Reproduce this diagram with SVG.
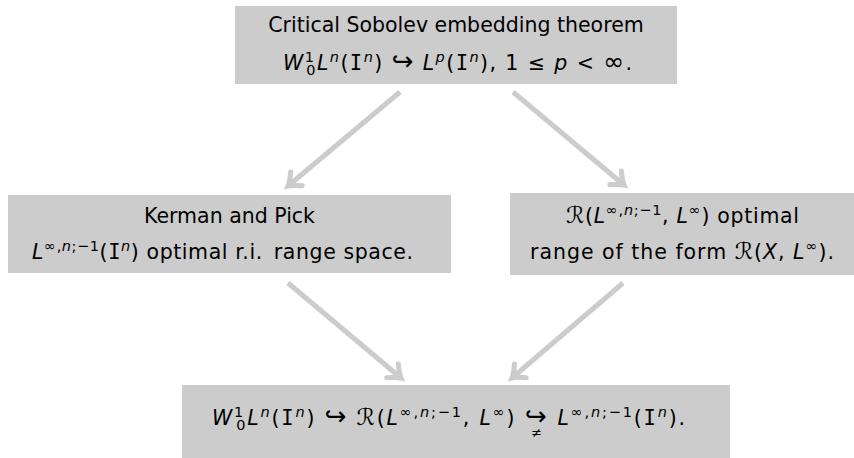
<svg xmlns="http://www.w3.org/2000/svg" width="854" height="458" viewBox="0 0 854 458">
<defs>
<style>
.box{fill:#cccccc;stroke:none}
text{font-family:"DejaVu Sans","Liberation Sans",sans-serif;font-size:20.5px;fill:#000}
.it{font-style:italic}
.tt{font-family:"DejaVu Sans Mono","Liberation Mono",monospace}
.sm{font-size:14.5px}
.ar{font-size:26px}
.inf{font-size:25px}
.cal{font-size:23px}
.ne{font-size:13px}
.conn{stroke:#cccccc;stroke-width:5;fill:none;marker-end:url(#arr)}
</style>
<marker id="arr" markerUnits="userSpaceOnUse" markerWidth="30" markerHeight="30" viewBox="-15 -15 30 30" refX="0" refY="0" orient="auto">
<path d="M -11 -9 Q -4 -2 0 0 Q -4 2 -11 9" fill="none" stroke="#cccccc" stroke-width="5" stroke-linecap="round"/>
</marker>
</defs>
<g id="connectors">
<line class="conn" x1="400" y1="92" x2="288" y2="186"/>
<line class="conn" x1="513" y1="92" x2="624" y2="185"/>
<line class="conn" x1="288" y1="283" x2="401" y2="378"/>
<line class="conn" x1="623" y1="283" x2="512" y2="378"/>
</g>
<g id="top">
<rect class="box" x="235" y="6" width="442" height="78"/>
<text x="456" y="32" text-anchor="middle">Critical Sobolev embedding theorem</text>
<text x="283" y="70" textLength="349" lengthAdjust="spacing"><tspan class="it">W</tspan><tspan class="sm" dy="-8">1</tspan><tspan class="sm" dx="-9" dy="13">0</tspan><tspan class="it" dy="-5">L</tspan><tspan class="it sm" dy="-8">n</tspan><tspan dy="8">(</tspan><tspan class="tt">I</tspan><tspan class="it sm" dy="-8">n</tspan><tspan dy="8">) </tspan><tspan class="ar">↪</tspan><tspan> </tspan><tspan class="it">L</tspan><tspan class="it sm" dy="-8">p</tspan><tspan dy="8">(</tspan><tspan class="tt">I</tspan><tspan class="it sm" dy="-8">n</tspan><tspan dy="8">), 1 ≤ </tspan><tspan class="it">p</tspan><tspan> &lt; </tspan><tspan class="inf">∞</tspan><tspan>.</tspan></text>
</g>
<g id="left">
<rect class="box" x="8" y="195" width="443" height="78"/>
<text x="229.5" y="223" text-anchor="middle">Kerman and Pick</text>
<text x="32" y="259" textLength="381" lengthAdjust="spacing"><tspan class="it">L</tspan><tspan class="sm" dy="-8">∞,</tspan><tspan class="it sm">n</tspan><tspan class="sm">;−1</tspan><tspan dy="8">(</tspan><tspan class="tt">I</tspan><tspan class="it sm" dy="-8">n</tspan><tspan dy="8">) optimal r.i. </tspan><tspan dx="4">range space.</tspan></text>
</g>
<g id="right">
<rect class="box" x="510" y="193" width="346" height="82"/>
<text x="566" y="223" textLength="233" lengthAdjust="spacing"><tspan class="cal">ℛ</tspan><tspan>(</tspan><tspan class="it">L</tspan><tspan class="sm" dy="-8">∞,</tspan><tspan class="it sm">n</tspan><tspan class="sm">;−1</tspan><tspan dy="8">, </tspan><tspan class="it">L</tspan><tspan class="sm" dy="-8">∞</tspan><tspan dy="8">) optimal</tspan></text>
<text x="530" y="259" textLength="304" lengthAdjust="spacing"><tspan>range of the form </tspan><tspan class="cal">ℛ</tspan><tspan>(</tspan><tspan class="it">X</tspan><tspan>, </tspan><tspan class="it">L</tspan><tspan class="sm" dy="-8">∞</tspan><tspan dy="8">).</tspan></text>
</g>
<g id="bottom">
<rect class="box" x="182" y="385" width="548" height="73"/>
<text x="212" y="425" textLength="473" lengthAdjust="spacing"><tspan class="it">W</tspan><tspan class="sm" dy="-8">1</tspan><tspan class="sm" dx="-9" dy="13">0</tspan><tspan class="it" dy="-5">L</tspan><tspan class="it sm" dy="-8">n</tspan><tspan dy="8">(</tspan><tspan class="tt">I</tspan><tspan class="it sm" dy="-8">n</tspan><tspan dy="8">) </tspan><tspan class="ar">↪</tspan><tspan> </tspan><tspan class="cal">ℛ</tspan><tspan>(</tspan><tspan class="it">L</tspan><tspan class="sm" dy="-8">∞,</tspan><tspan class="it sm">n</tspan><tspan class="sm">;−1</tspan><tspan dy="8">, </tspan><tspan class="it">L</tspan><tspan class="sm" dy="-8">∞</tspan><tspan dy="8">) </tspan><tspan class="ar">↪</tspan><tspan class="ne" dx="-17" dy="12">≠</tspan><tspan dx="5" dy="-12"> </tspan><tspan class="it">L</tspan><tspan class="sm" dy="-8">∞,</tspan><tspan class="it sm">n</tspan><tspan class="sm">;−1</tspan><tspan dy="8">(</tspan><tspan class="tt">I</tspan><tspan class="it sm" dy="-8">n</tspan><tspan dy="8">).</tspan></text>
</g>
</svg>
